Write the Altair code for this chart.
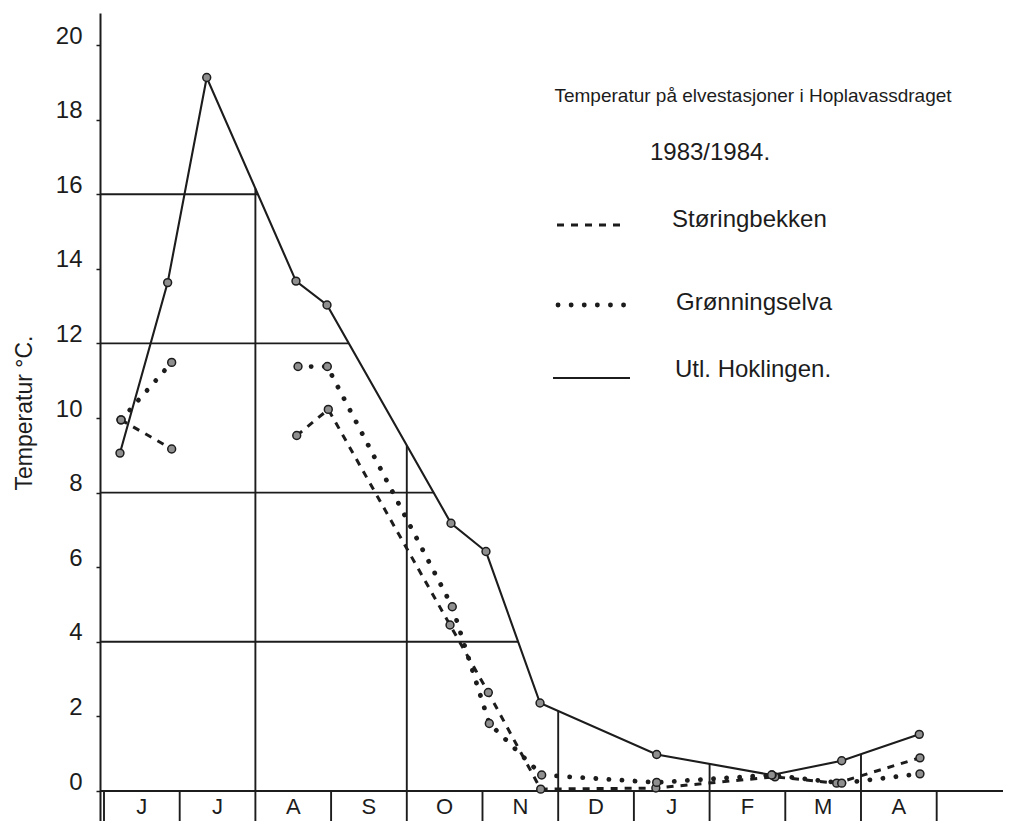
import altair as alt
import pandas as pd
import numpy as np

# ---------------- data ----------------
months = ["J", "J", "A", "S", "O", "N", "D", "J", "F", "M", "A"]
y_ticks = [0, 2, 4, 6, 8, 10, 12, 14, 16, 18, 20]
series_names = ["Støringbekken", "Grønningselva", "Utl. Hoklingen."]

# month index: 0 = start of June 1983, 1 = start of July, ...
hok_m = [0.211, 0.841, 1.357, 2.536, 2.946, 4.584, 5.046, 5.760, 7.301, 8.820, 9.745, 10.770]
hok_t = [9.06, 13.63, 19.13, 13.67, 13.03, 7.18, 6.42, 2.36, 0.98, 0.43, 0.81, 1.52]

stor_m1 = [0.225, 0.894]
stor_t1 = [9.95, 9.17]
stor_m2 = [2.546, 2.963, 4.571, 5.077, 5.769, 7.290, 8.864, 9.679, 10.779]
stor_t2 = [9.53, 10.23, 4.45, 2.64, 0.05, 0.08, 0.38, 0.21, 0.89]

gron_m1 = [0.225, 0.894]
gron_t1 = [9.95, 11.49]
gron_m2 = [2.563, 2.950, 4.601, 5.090, 5.782, 7.301, 8.825, 9.745, 10.779]
gron_t2 = [11.38, 11.38, 4.94, 1.81, 0.43, 0.23, 0.43, 0.21, 0.46]

grid_levels = [4, 8, 12, 16]
grid_bounds = [2, 4, 6, 8, 10]
sep_bounds = list(range(0, 12))

title1 = "Temperatur  på elvestasjoner i Hoplavassdraget"
title2 = "1983/1984."
y_title = "Temperatur °C."

# ---------------- layout ----------------
W, H = 903, 808
PAD_L, PAD_T = 92, 5
x_dom = [-0.0528, 11.876]
y_dom = [-0.804, 20.858]
xs = alt.Scale(domain=x_dom, nice=False, zero=False)
ys = alt.Scale(domain=y_dom, nice=False, zero=False)
INK = "#1c1c1c"
FONT = "Liberation Sans"

y_axis = alt.Axis(values=y_ticks, grid=False, title=None, domainColor=INK,
                  domainWidth=2, tickColor=INK, tickSize=4, tickWidth=1.5,
                  labelFont=FONT, labelFontSize=24, labelColor=INK,
                  labelPadding=14, labelOffset=-9, labelBaseline="middle")


def last_crossing(mx, tv, level):
    for i in range(len(mx) - 1, 0, -1):
        a, b = tv[i - 1], tv[i]
        if (a - level) * (b - level) <= 0 and a != b:
            return mx[i - 1] + (level - a) / (b - a) * (mx[i] - mx[i - 1])
    return x_dom[1]


hgrid = pd.DataFrame({
    "level": grid_levels,
    "start": [x_dom[0]] * len(grid_levels),
    "end": [last_crossing(hok_m, hok_t, lv) for lv in grid_levels],
})
vgrid = pd.DataFrame({
    "b": grid_bounds,
    "zero": [0.0] * len(grid_bounds),
    "top": [float(np.interp(b, hok_m, hok_t)) for b in grid_bounds],
})
seps = pd.DataFrame({"b": sep_bounds, "zero": [0.0] * len(sep_bounds)})


def seg_df(pairs):
    rows = []
    for k, (mm, tt) in enumerate(pairs):
        for a, b in zip(mm, tt):
            rows.append({"seg": k, "m": a, "t": b})
    return pd.DataFrame(rows)


hok_df = seg_df([(hok_m, hok_t)])
stor_df = seg_df([(stor_m1, stor_t1), (stor_m2, stor_t2)])
gron_df = seg_df([(gron_m1, gron_t1), (gron_m2, gron_t2)])

X = lambda f: alt.X(f, type="quantitative", scale=xs, axis=None)
Y = lambda f: alt.Y(f, type="quantitative", scale=ys, axis=y_axis)

hgrid_layer = alt.Chart(hgrid).mark_rule(color=INK, strokeWidth=1.9).encode(
    x=X("start"), x2="end", y=Y("level"))
vgrid_layer = alt.Chart(vgrid).mark_rule(color=INK, strokeWidth=1.9).encode(
    x=X("b"), y=Y("zero"), y2="top")
sep_layer = alt.Chart(seps).mark_rule(color=INK, strokeWidth=1.9).encode(
    x=X("b"), y=Y("zero"), y2=alt.value(H))
base_layer = alt.Chart(seps).mark_rule(color=INK, strokeWidth=2.2).encode(
    y=alt.Y(datum=0, scale=ys, axis=y_axis), x=alt.value(0), x2=alt.value(W))

styles = {
    "Støringbekken": dict(strokeDash=[7, 7], strokeWidth=3, strokeCap="butt"),
    "Grønningselva": dict(strokeDash=[0.1, 13], strokeWidth=4.8, strokeCap="round"),
    "Utl. Hoklingen.": dict(strokeWidth=2.1),
}

line_layers = []
for name, df in zip(series_names, [stor_df, gron_df, hok_df]):
    line_layers.append(
        alt.Chart(df).mark_line(color=INK, **styles[name]).encode(
            x=X("m"), y=Y("t"), detail="seg:N", order="m:Q"))
pts = pd.concat([stor_df, gron_df, hok_df])
point_layer = alt.Chart(pts).mark_point(
    shape="circle", filled=True, size=62, fill="#8f8f8f", stroke=INK,
    strokeWidth=1.5, opacity=1).encode(x=X("m"), y=Y("t"))

month_df = pd.DataFrame({"lab": months, "pos": [i + 0.5 for i in range(len(months))]})
month_layer = alt.Chart(month_df).mark_text(
    font=FONT, fontSize=22, color=INK, baseline="top", align="center").encode(
    x=X("pos"), y=alt.value(784), text="lab:N")

one = pd.DataFrame({"k": [0]})


def label(txt, x, y, size, align="left", angle=0):
    return alt.Chart(one).mark_text(
        text=txt, font=FONT, fontSize=size, color=INK, align=align,
        baseline="middle", angle=angle).encode(x=alt.value(x), y=alt.value(y))


ann = [
    label(title1, 653, 83, 19, "center"),
    label(title2, 610, 140, 24, "center"),
    label(y_title, -75, 400, 23, "center", 270),
]
legend_pos = {
    "Støringbekken": (457, 525, 212, 572, 207),
    "Grønningselva": (458, 528, 292, 576, 290),
    "Utl. Hoklingen.": (453, 530, 365, 575, 357),
}
for name in series_names:
    x1, x2, ly, tx, ty = legend_pos[name]
    ann.append(alt.Chart(one).mark_rule(color=INK, **styles[name]).encode(
        x=alt.value(x1), x2=alt.value(x2), y=alt.value(ly)))
    ann.append(label(name, tx, ty, 24))

chart = alt.layer(
    hgrid_layer, vgrid_layer, sep_layer, base_layer,
    *line_layers, point_layer, month_layer, *ann,
).properties(
    width=W, height=H,
    autosize=alt.AutoSizeParams(type="none"),
    padding={"left": PAD_L, "top": PAD_T, "right": 0, "bottom": 0},
    background="white",
).configure_view(stroke=None)

chart.save("out.html", embed_options={"renderer": "svg", "actions": False})
